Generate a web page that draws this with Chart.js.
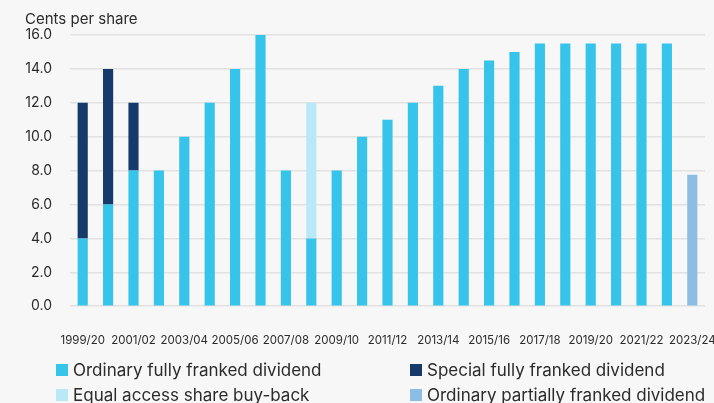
<!DOCTYPE html>
<html>
<head>
<meta charset="utf-8">
<script src="https://cdn.jsdelivr.net/npm/chart.js@4/dist/chart.umd.min.js"></script>
<style>
  html, body { margin: 0; padding: 0; background: #f7f7f7; }
  body { position: relative; width: 714px; height: 403px; overflow: hidden; font-family: Inter, "Noto Sans", sans-serif; color: #2b2b2b; }
  #wrap { position: absolute; left: 0; top: 0; width: 714px; height: 374px; }
  #legend { position: absolute; left: 56px; top: 357px; display: grid; grid-template-columns: 354px 300px; }
  .item { display: flex; align-items: center; height: 25px; font-size: 17px; white-space: nowrap; }
  .box { width: 12px; height: 12px; margin-right: 5px; flex: none; }
</style>
</head>
<body>
<div id="wrap"><canvas id="chart"></canvas></div>
<div id="legend"></div>
<script>
// financial years, every other one is labelled on the axis
const years = [
  "1999/20", "2000/01", "2001/02", "2002/03", "2003/04", "2004/05", "2005/06",
  "2006/07", "2007/08", "2008/09", "2009/10", "2010/11", "2011/12", "2012/13",
  "2013/14", "2014/15", "2015/16", "2016/17", "2017/18", "2018/19", "2019/20",
  "2020/21", "2021/22", "2022/23", "2023/24"
]

// cents per share
const ordinaryFull = [4, 6, 8, 8, 10, 12, 14, 16, 8, 4, 8, 10, 11, 12, 13, 14, 14.5, 15, 15.5, 15.5, 15.5, 15.5, 15.5, 15.5, null]
const specialFull = [8, 8, 4, null, null, null, null, null, null, null, null, null, null, null, null, null, null, null, null, null, null, null, null, null, null]
const buyBack = [null, null, null, null, null, null, null, null, null, 8, null, null, null, null, null, null, null, null, null, null, null, null, null, null, null]
const ordinaryPartial = [null, null, null, null, null, null, null, null, null, null, null, null, null, null, null, null, null, null, null, null, null, null, null, null, 7.75]

const yTicks = [0, 2, 4, 6, 8, 10, 12, 14, 16]

const series = [
  { label: "Ordinary fully franked dividend", data: ordinaryFull, color: "#37c4ea" },
  { label: "Special fully franked dividend", data: specialFull, color: "#153a6b" },
  { label: "Equal access share buy-back", data: buyBack, color: "#b9e8f7" },
  { label: "Ordinary partially franked dividend", data: ordinaryPartial, color: "#8bbde5" }
]

const textColor = "#2b2b2b"

let ctx = document.getElementById("chart").getContext("2d")
let chart = new Chart(ctx, {
  type: "bar",
  data: {
    labels: years,
    datasets: series.map(s => ({
      label: s.label,
      data: s.data,
      backgroundColor: s.color,
      borderWidth: 0,
      barPercentage: 0.8,
      categoryPercentage: 0.5,
      stack: "all"
    }))
  },
  options: {
    responsive: true,
    maintainAspectRatio: false,
    animation: false,
    layout: { padding: { left: 25, right: 9, top: 4, bottom: 0 } },
    plugins: {
      legend: { display: false },
      tooltip: { enabled: false },
      title: {
        display: true,
        text: "Cents per share",
        align: "start",
        color: textColor,
        font: { family: "Inter", size: 15, weight: "normal" },
        padding: { top: 6, bottom: 7 }
      }
    },
    scales: {
      x: {
        stacked: true,
        grid: { display: false, drawTicks: false },
        border: { display: false },
        ticks: {
          autoSkip: false,
          maxRotation: 0,
          padding: 27,
          color: textColor,
          font: { family: "Inter", size: 11.5 },
          callback: function (v, i) { return i % 2 === 0 ? years[i] : "" }
        },
        // let the last label run past the edge like the original
        afterFit: axis => { axis.paddingLeft = 0; axis.paddingRight = 0 }
      },
      y: {
        stacked: true,
        min: yTicks[0],
        max: yTicks[yTicks.length - 1],
        afterBuildTicks: axis => { axis.ticks = yTicks.map(v => ({ value: v })) },
        afterFit: axis => { axis.width = 45 },
        grid: { color: "#e2e2e2", lineWidth: 1.5, drawTicks: false },
        border: { display: false },
        ticks: {
          padding: 18,
          color: textColor,
          font: { family: "Inter", size: 14 },
          callback: v => v.toFixed(1)
        }
      }
    }
  }
})

// two-column legend built from the same series
let legend = document.getElementById("legend")
series.forEach(s => {
  let item = document.createElement("div")
  item.className = "item"
  item.innerHTML = `<span class="box" style="background:${s.color}"></span>${s.label}`
  legend.appendChild(item)
})
</script>
</body>
</html>
